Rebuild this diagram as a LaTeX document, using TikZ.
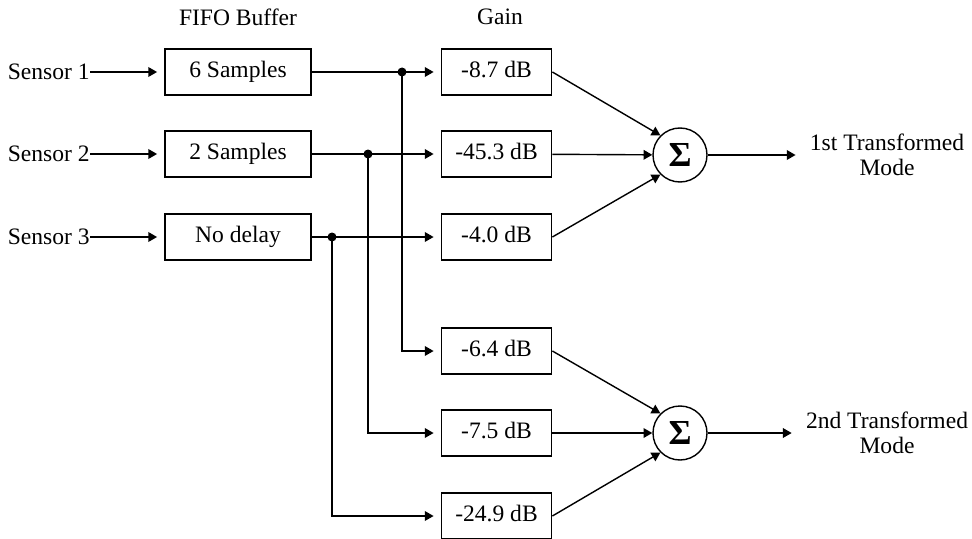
\documentclass[tikz,border=0pt]{standalone}
\usepackage{fontspec}
\setmainfont{Liberation Serif}
\usetikzlibrary{arrows.meta,positioning,calc}

\begin{document}
\begin{tikzpicture}[>={Triangle[length=5pt,width=5.5pt]},
  font=\fontsize{13.4}{14.5}\selectfont,
  box/.style={draw,line width=1pt,minimum width=2.92cm,minimum height=0.92cm,inner sep=0pt,
    text height=0.66em,text depth=0pt},
  gbox/.style={box,minimum width=2.2cm},
  dot/.style={circle,fill,inner sep=0pt,minimum size=0.18cm},
  sum/.style={circle,draw,line width=0.8pt,minimum size=1.08cm,inner sep=0pt},
  link/.style={line width=0.8pt},
  feed/.style={link,->,shorten >=4pt}]
  % sensors -> FIFO delay -> gains -> two summed modes
  \useasboundingbox (0,0) rectangle (19.44,10.76);

  \node at (4.76,10.42) (fifo) {FIFO Buffer};
  \node at (10.0,10.42) (gain) {Gain};

  \node[anchor=east,inner sep=0pt] (s1) at (1.8,9.32) {Sensor 1};
  \node[anchor=east,inner sep=0pt] (s2) at (1.8,7.68) {Sensor 2};
  \node[anchor=east,inner sep=0pt] (s3) at (1.8,6.02) {Sensor 3};

  \node[box] (b1) at (4.76,9.32) {6 Samples};
  \node[box] (b2) at (4.76,7.68) {2 Samples};
  \node[box] (b3) at (4.76,6.02) {No delay};

  \node[gbox] (g1) at (9.93,9.32) {-8.7 dB};
  \node[gbox] (g2) at (9.93,7.68) {-45.3 dB};
  \node[gbox] (g3) at (9.93,6.02) {-4.0 dB};
  \node[gbox] (g4) at (9.93,3.74) {-6.4 dB};
  \node[gbox] (g5) at (9.93,2.10) {-7.5 dB};
  \node[gbox] (g6) at (9.93,0.44) {-24.9 dB};

  \node[dot] (d1) at (8.04,9.32) {};
  \node[dot] (d2) at (7.36,7.68) {};
  \node[dot] (d3) at (6.64,6.02) {};

  \node[sum] (sum1) at (13.6,7.66) {\fontsize{20}{20}\selectfont\textbf{Σ}};
  \node[sum] (sum2) at (13.6,2.10) {\fontsize{20}{20}\selectfont\textbf{Σ}};

  \node[align=center,inner sep=0pt] (out1) at (17.74,7.66) {1st Transformed\\Mode};
  \node[align=center,inner sep=0pt] (out2) at (17.74,2.10) {2nd Transformed\\Mode};

  \draw[feed] (s1.east) -- (b1);
  \draw[feed] (s2.east) -- (b2);
  \draw[feed] (s3.east) -- (b3);

  \draw[feed] (b1) -- (g1);
  \draw[feed] (b2) -- (g2);
  \draw[feed] (b3) -- (g3);

  \draw[feed] (d1.center) |- (g4);
  \draw[feed] (d2.center) |- (g5);
  \draw[feed] (d3.center) |- (g6);

  \draw[link,->] (g1.east) -- (sum1.135);
  \draw[link,->] (g2) -- (sum1);
  \draw[link,->] (g3.east) -- (sum1.225);
  \draw[link,->] (g4.east) -- (sum2.135);
  \draw[link,->] (g5) -- (sum2);
  \draw[link,->] (g6.east) -- (sum2.225);

  \draw[link,->,shorten >=0.28cm] (sum1) -- (out1);
  \draw[link,->,shorten >=0.28cm] (sum2) -- (out2);
\end{tikzpicture}
\end{document}
